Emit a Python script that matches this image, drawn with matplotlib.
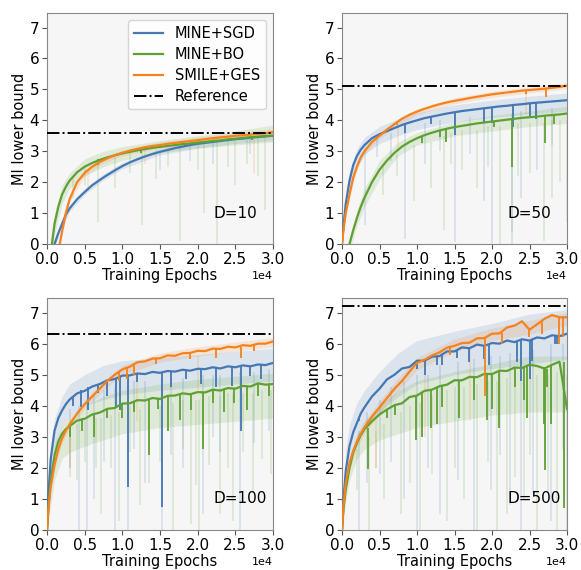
import numpy as np
import matplotlib
matplotlib.use('Agg')
import matplotlib.pyplot as plt

# ---------------- data (x in units of 1e4 training epochs) ----------------
EPOCHS = [0, 0.02, 0.05, 0.1, 0.15, 0.2, 0.25, 0.3, 0.4, 0.5, 0.6, 0.7, 0.8, 0.9,
          1.0, 1.1, 1.2, 1.3, 1.4, 1.5, 1.6, 1.7, 1.8, 1.9, 2.0, 2.1, 2.2, 2.3,
          2.4, 2.5, 2.6, 2.7, 2.8, 2.9, 3.0]
BAND_EPOCHS = [0, 0.05, 0.1, 0.2, 0.3, 0.5, 0.75, 1.0, 1.5, 2.0, 2.5, 3.0]

DIMS = ["D=10", "D=50", "D=100", "D=500"]
REFERENCE = [3.6, 5.1, 6.3, 7.2]
METHODS = ["MINE+SGD", "MINE+BO", "SMILE+GES"]

# D=10
D10_SGD = [-1.2, -0.9, -0.5, 0.0, 0.35, 0.65, 0.95, 1.15, 1.45, 1.68, 1.9, 2.07, 2.23, 2.38,
           2.52, 2.64, 2.74, 2.83, 2.91, 2.98, 3.04, 3.1, 3.15, 3.2, 3.24, 3.27, 3.3, 3.33,
           3.36, 3.39, 3.41, 3.44, 3.46, 3.48, 3.5]
D10_BO = [-1.5, -1.0, -0.3, 0.65, 1.2, 1.6, 1.85, 2.05, 2.32, 2.5, 2.62, 2.72, 2.8, 2.87,
          2.93, 2.98, 3.03, 3.07, 3.11, 3.14, 3.17, 3.2, 3.23, 3.25, 3.28, 3.3, 3.33, 3.35,
          3.38, 3.4, 3.43, 3.45, 3.47, 3.49, 3.5]
D10_GES = [-2.5, -2.2, -1.7, -0.9, -0.25, 0.4, 1.0, 1.45, 2.0, 2.3, 2.5, 2.65, 2.77, 2.87,
           2.95, 3.02, 3.08, 3.13, 3.17, 3.2, 3.24, 3.27, 3.3, 3.33, 3.36, 3.39, 3.42, 3.45,
           3.47, 3.5, 3.52, 3.54, 3.56, 3.58, 3.62]

# D=50
D50_SGD = [0.0, 0.6, 1.3, 2.05, 2.55, 2.85, 3.05, 3.2, 3.42, 3.55, 3.65, 3.75, 3.85, 3.93,
           4.0, 4.07, 4.12, 4.17, 4.22, 4.26, 4.3, 4.33, 4.36, 4.39, 4.42, 4.45, 4.47, 4.5,
           4.52, 4.55, 4.57, 4.59, 4.61, 4.63, 4.65]
D50_BO = [-1.0, -0.75, -0.4, 0.0, 0.45, 0.85, 1.2, 1.5, 2.0, 2.4, 2.7, 2.95, 3.15, 3.3,
          3.42, 3.52, 3.6, 3.67, 3.73, 3.78, 3.82, 3.86, 3.9, 3.93, 3.96, 3.99, 4.02, 4.05,
          4.08, 4.1, 4.12, 4.15, 4.17, 4.19, 4.22]
D50_GES = [0.0, 0.45, 1.0, 1.6, 2.15, 2.5, 2.8, 3.0, 3.3, 3.5, 3.7, 3.88, 4.05, 4.18,
           4.28, 4.37, 4.45, 4.52, 4.58, 4.63, 4.67, 4.72, 4.76, 4.8, 4.84, 4.87, 4.9, 4.93,
           4.96, 4.98, 5.0, 5.02, 5.05, 5.08, 5.12]

# D=100
D100_SGD = [0.0, 1.2, 2.3, 3.2, 3.6, 3.85, 4.05, 4.2, 4.4, 4.48, 4.62, 4.7, 4.82, 4.86,
            4.97, 4.98, 5.04, 5.02, 5.09, 5.06, 5.12, 5.1, 5.16, 5.13, 5.19, 5.18, 5.24, 5.2,
            5.27, 5.24, 5.3, 5.27, 5.33, 5.31, 5.38]
D100_BO = [0.0, 0.8, 1.6, 2.4, 2.85, 3.1, 3.25, 3.35, 3.52, 3.58, 3.72, 3.78, 3.9, 3.93,
           4.07, 4.08, 4.18, 4.17, 4.25, 4.22, 4.32, 4.33, 4.4, 4.37, 4.44, 4.43, 4.52, 4.49,
           4.57, 4.55, 4.64, 4.62, 4.72, 4.68, 4.7]
D100_GES = [0.0, 0.7, 1.4, 2.1, 2.6, 2.95, 3.2, 3.4, 3.75, 4.05, 4.3, 4.55, 4.8, 5.0,
            5.17, 5.26, 5.4, 5.43, 5.52, 5.53, 5.62, 5.61, 5.69, 5.7, 5.77, 5.76, 5.84, 5.83,
            5.9, 5.88, 5.95, 5.93, 6.0, 6.0, 6.07]

# D=500
D500_SGD = [0.0, 1.0, 1.9, 2.7, 3.15, 3.45, 3.75, 3.95, 4.3, 4.55, 4.85, 5.0, 5.2, 5.25,
            5.45, 5.45, 5.58, 5.6, 5.75, 5.75, 5.88, 5.85, 5.97, 5.93, 6.02, 6.0, 6.1, 6.05,
            6.14, 6.1, 6.2, 6.17, 6.27, 6.24, 6.32]
D500_BO = [0.0, 0.7, 1.3, 2.0, 2.5, 2.8, 3.05, 3.25, 3.5, 3.72, 3.88, 4.02, 4.08, 4.28,
           4.33, 4.48, 4.52, 4.63, 4.68, 4.82, 4.82, 4.93, 4.92, 5.03, 5.02, 5.13, 5.12, 5.23,
           5.22, 5.32, 5.28, 5.2, 5.32, 5.42, 3.9]
D500_GES = [0.0, 0.8, 1.5, 2.15, 2.55, 2.85, 3.1, 3.3, 3.65, 3.95, 4.25, 4.55, 4.8, 5.1,
            5.38, 5.48, 5.62, 5.72, 5.87, 5.93, 6.02, 6.03, 6.17, 6.18, 6.32, 6.33, 6.52, 6.58,
            6.72, 6.45, 6.62, 6.8, 6.92, 6.85, 6.85]

# downward glitches of the plotted (bold) curves: x, bottom, top
D10_SGD_DIP = ([], [], [])
D10_BO_DIP = ([0.68, 1.25, 2.72], [2.55, 2.95, 3.35], [2.74, 3.05, 3.45])
D10_GES_DIP = ([], [], [])
D50_SGD_DIP = ([0.84, 1.18, 1.51, 1.89, 2.0, 2.28, 2.51, 2.58],
               [3.6, 3.88, 3.52, 3.95, 3.9, 3.77, 4.1, 4.05],
               [3.9, 4.12, 4.26, 4.39, 4.42, 4.5, 4.55, 4.57])
D50_BO_DIP = ([1.06, 1.31, 1.39, 2.02, 2.26, 2.7, 2.82],
              [3.28, 3.45, 3.3, 3.77, 2.5, 3.28, 3.88],
              [3.5, 3.67, 3.72, 3.96, 4.05, 4.15, 4.17])
D50_GES_DIP = ([0.73, 2.45, 2.72], [3.85, 4.85, 4.75], [3.94, 4.97, 5.02])
D100_SGD_DIP = ([0.45, 0.55, 0.8, 0.91, 0.97, 1.08, 1.53, 1.64, 2.04, 2.24, 2.45, 2.58, 2.84,
                 0.35, 0.68, 1.2, 1.85, 2.7],
                [3.95, 3.85, 4.3, 3.95, 3.85, 1.4, 0.75, 4.6, 4.7, 4.6, 4.65, 3.2, 4.85,
                 4.0, 4.4, 4.75, 4.85, 4.95],
                [4.5, 4.6, 4.8, 4.86, 4.95, 5.0, 5.06, 5.1, 5.19, 5.24, 5.27, 5.3, 5.33,
                 4.3, 4.7, 5.04, 5.15, 5.28])
D100_BO_DIP = ([0.46, 0.62, 0.99, 1.36, 1.6, 1.77, 1.91, 2.07, 2.35, 2.48, 2.66, 2.95,
                0.3, 0.8, 1.15, 1.48, 2.2, 2.8],
               [3.2, 3.0, 3.6, 2.4, 3.2, 3.55, 3.85, 2.6, 3.8, 4.1, 3.85, 4.3,
                3.0, 3.6, 3.8, 3.9, 4.1, 4.3],
               [3.6, 3.7, 4.05, 4.23, 4.32, 4.35, 4.38, 4.44, 4.53, 4.55, 4.63, 4.7,
                3.35, 3.9, 4.15, 4.23, 4.5, 4.7])
D100_GES_DIP = ([0.95, 1.06, 1.15, 2.24, 2.57, 1.45, 1.9, 2.75],
                [4.8, 4.85, 5.0, 5.55, 5.55, 5.35, 5.5, 5.75],
                [5.1, 5.25, 5.38, 5.85, 5.9, 5.53, 5.7, 5.95])
D500_SGD_DIP = ([0.22, 0.71, 1.0, 1.11, 1.27, 1.33, 1.53, 1.69, 1.89, 1.96, 2.33, 2.38,
                 2.51, 2.53, 2.84, 2.87],
                [3.5, 5.0, 5.2, 5.0, 5.3, 5.3, 5.55, 5.4, 5.5, 5.3, 5.4, 4.8,
                 4.85, 5.45, 6.0, 6.0],
                [3.6, 5.02, 5.45, 5.48, 5.6, 5.62, 5.8, 5.9, 5.97, 6.0, 6.1, 6.12,
                 6.12, 6.12, 6.25, 6.26])
D500_BO_DIP = ([0.34, 0.6, 0.71, 0.98, 1.07, 1.18, 1.27, 1.33, 1.56, 1.76, 1.93, 2.0, 2.09,
                2.31, 2.42, 2.47, 2.69, 2.71, 2.73, 2.78, 2.96],
               [1.95, 3.6, 3.7, 2.9, 3.0, 3.3, 3.4, 3.95, 3.6, 4.2, 3.55, 3.9, 3.3,
                4.6, 4.2, 3.6, 3.4, 1.94, 4.6, 3.4, 0.7],
               [3.3, 3.88, 4.02, 4.33, 4.45, 4.52, 4.62, 4.63, 4.82, 4.92, 5.03, 5.02, 5.12,
                5.23, 5.22, 5.3, 5.25, 5.2, 5.2, 5.3, 5.4])
D500_GES_DIP = ([0.8, 1.02, 1.44, 1.91, 2.13, 2.49, 2.67, 2.89, 2.95],
                [4.75, 5.4, 5.65, 4.3, 6.0, 6.2, 6.3, 6.0, 6.2],
                [4.8, 5.42, 5.9, 6.2, 6.35, 6.45, 6.75, 6.86, 6.85])

# faint raw-run envelopes on BAND_EPOCHS: (low, high)
D10_SGD_BAND = ([-1.3, -0.6, -0.1, 0.55, 1.05, 1.6, 2.07, 2.43, 2.88, 3.1, 3.25, 3.35],
                [-1.1, -0.4, 0.1, 0.75, 1.25, 1.8, 2.27, 2.63, 3.08, 3.35, 3.5, 3.62])
D10_BO_BAND = ([-1.5, -0.6, 0.3, 1.3, 1.8, 2.2, 2.5, 2.7, 2.95, 3.1, 3.2, 3.3],
               [-1.0, 0.2, 1.0, 1.9, 2.3, 2.75, 3.0, 3.15, 3.35, 3.5, 3.65, 3.85])
D10_GES_BAND = ([-2.6, -1.8, -1.0, 0.3, 1.35, 2.2, 2.62, 2.86, 3.1, 3.26, 3.4, 3.5],
                [-2.4, -1.6, -0.8, 0.5, 1.55, 2.4, 2.8, 3.04, 3.3, 3.46, 3.6, 3.72])
D50_SGD_BAND = ([0.0, 1.0, 1.7, 2.5, 2.9, 3.25, 3.5, 3.7, 3.95, 4.1, 4.2, 4.3],
                [0.2, 1.6, 2.35, 3.1, 3.45, 3.8, 4.05, 4.25, 4.5, 4.65, 4.78, 4.88])
D50_BO_BAND = ([-1.2, -0.6, -0.2, 0.6, 1.2, 2.1, 2.85, 3.2, 3.5, 3.65, 3.8, 3.9],
               [-0.8, -0.2, 0.2, 1.1, 1.8, 2.7, 3.3, 3.6, 3.95, 4.15, 4.3, 4.45])
D50_GES_BAND = ([0.0, 0.9, 1.5, 2.4, 2.9, 3.4, 3.85, 4.18, 4.53, 4.74, 4.88, 5.02],
                [0.1, 1.1, 1.7, 2.6, 3.1, 3.6, 4.05, 4.38, 4.73, 4.94, 5.08, 5.22])
D100_SGD_BAND = ([0.0, 1.5, 2.6, 3.4, 3.7, 4.0, 4.2, 4.35, 4.5, 4.6, 4.7, 4.8],
                 [0.2, 2.7, 3.6, 4.3, 4.7, 5.0, 5.3, 5.45, 5.55, 5.65, 5.75, 5.85])
D100_BO_BAND = ([0.0, 0.8, 1.6, 2.3, 2.5, 2.7, 2.9, 3.1, 3.3, 3.4, 3.5, 3.6],
                [0.1, 2.0, 2.8, 3.4, 3.7, 4.0, 4.3, 4.5, 4.7, 4.85, 4.95, 5.05])
D100_GES_BAND = ([0.0, 1.25, 1.95, 2.8, 3.25, 3.9, 4.5, 5.0, 5.4, 5.6, 5.75, 5.9],
                 [0.1, 1.55, 2.25, 3.1, 3.55, 4.2, 4.8, 5.3, 5.7, 5.9, 6.05, 6.2])
D500_SGD_BAND = ([0.0, 1.3, 2.0, 2.9, 3.3, 3.8, 4.3, 4.7, 5.0, 5.2, 5.35, 5.5],
                 [0.3, 2.6, 3.4, 4.1, 4.5, 5.1, 5.7, 6.1, 6.4, 6.65, 6.95, 7.1])
D500_BO_BAND = ([0.0, 0.9, 1.6, 2.3, 2.6, 2.9, 3.1, 3.3, 3.5, 3.7, 3.8, 3.8],
                [0.1, 1.6, 2.3, 3.1, 3.5, 4.0, 4.5, 4.8, 5.1, 5.35, 5.6, 5.6])
D500_GES_BAND = ([0.0, 1.3, 1.95, 2.65, 3.1, 3.75, 4.5, 5.15, 5.75, 6.1, 6.3, 6.6],
                 [0.1, 1.7, 2.35, 3.05, 3.5, 4.15, 4.9, 5.55, 6.15, 6.5, 6.75, 7.0])

# faint downward spikes of the raw runs: x, bottom, top
D10_SGD_SPK = ([1.5, 2.2, 2.7, 1.9], [2.4, 2.6, 2.9, 2.7], [2.95, 3.3, 3.4, 3.2])
D10_BO_SPK = ([0.35, 0.68, 0.9, 1.26, 1.45, 1.76, 2.08, 2.25, 2.5, 2.9, 1.1, 1.6, 0.5, 2.0, 2.4,
               2.65, 2.8],
              [1.5, 0.7, 1.8, 0.6, 2.1, 0.1, 1.0, 0.0, 1.9, 1.1, 2.3, 2.5, 1.9, 2.4, 2.5,
               2.6, 2.2],
              [2.2, 2.7, 2.8, 3.0, 3.05, 3.2, 3.25, 3.3, 3.4, 3.45, 2.95, 3.1, 2.5, 3.3, 3.35,
               3.4, 3.45])
D10_GES_SPK = ([0.55, 2.75, 1.3], [1.7, 2.3, 2.6], [2.4, 3.5, 3.1])
D50_SGD_SPK = ([0.3, 0.47, 0.84, 1.51, 1.89, 2.0, 2.27, 2.38, 1.1, 2.6, 0.65, 1.3, 1.7, 2.8],
               [0.6, 2.8, 0.16, 0.05, 1.4, 0.0, 0.0, 1.5, 2.6, 2.4, 2.7, 3.0, 2.9, 3.2],
               [3.1, 3.4, 3.6, 4.0, 4.0, 4.1, 4.2, 4.3, 3.9, 4.3, 3.6, 4.0, 4.1, 4.4])
D50_BO_SPK = ([0.73, 0.96, 1.18, 1.36, 1.8, 2.11, 2.27, 2.51, 2.69, 3.0, 1.6, 2.9, 0.55, 1.45,
               1.95, 2.35, 2.8],
              [2.2, 1.4, 1.8, 0.45, 1.8, 0.0, 0.4, 2.3, 0.1, 0.7, 2.4, 2.0, 1.6, 2.6,
               2.5, 2.2, 1.5],
              [2.9, 3.2, 3.3, 3.5, 3.7, 3.8, 3.8, 3.9, 3.9, 4.0, 3.7, 4.0, 2.5, 3.6,
               3.8, 3.9, 4.0])
D50_GES_SPK = ([0.75, 2.45], [3.0, 4.2], [3.85, 4.9])
D100_SGD_SPK = ([0.43, 0.53, 0.62, 0.9, 1.07, 1.3, 1.52, 2.07, 2.56, 1.8, 2.3, 0.3, 0.75, 1.15,
                 1.65, 2.2, 2.75, 2.95],
                [0.0, 0.0, 1.0, 0.0, 0.0, 1.5, 0.0, 0.5, 0.0, 2.0, 2.5, 2.0, 2.2, 2.6,
                 2.4, 3.0, 2.8, 3.2],
                [4.0, 4.2, 4.4, 4.6, 4.7, 4.8, 4.9, 5.0, 5.1, 4.9, 5.0, 3.9, 4.5, 4.8,
                 4.9, 5.0, 5.1, 5.2])
D100_BO_SPK = ([0.31, 0.5, 0.72, 0.96, 1.23, 1.36, 1.67, 1.91, 1.98, 2.02, 2.29, 2.47, 2.73, 2.98,
                0.85, 1.5, 2.15, 2.6, 2.85, 0.4, 0.65, 1.1, 1.8, 2.4],
               [1.7, 2.2, 0.5, 0.3, 0.8, 1.5, 0.0, 0.2, 1.45, 0.0, 0.5, 0.3, 1.2, 1.8,
                2.0, 2.2, 2.1, 2.5, 2.3, 1.6, 2.0, 2.5, 2.6, 2.0],
               [3.3, 3.5, 3.6, 3.8, 3.9, 4.0, 4.1, 4.2, 4.2, 4.2, 4.3, 4.4, 4.4, 4.5,
                3.7, 4.0, 4.3, 4.4, 4.5, 3.4, 3.6, 4.0, 4.2, 4.4])
D100_GES_SPK = ([0.3, 1.2, 2.0], [2.0, 3.5, 4.5], [3.3, 5.0, 5.6])
D500_SGD_SPK = ([0.22, 0.33, 0.82, 1.0, 1.31, 1.76, 1.98, 2.24, 2.38, 2.78, 0.5, 0.65, 1.15,
                 1.55, 2.1, 2.55, 2.95],
                [0.0, 1.5, 1.0, 0.0, 0.5, 0.0, 1.3, 0.8, 0.0, 0.3, 1.8, 2.2, 2.0,
                 1.6, 2.4, 1.2, 2.6],
                [3.2, 3.8, 4.8, 5.0, 5.3, 5.5, 5.6, 5.7, 5.8, 6.0, 4.2, 4.6, 5.0,
                 5.4, 5.6, 5.8, 6.0])
D500_BO_SPK = ([0.2, 0.36, 0.56, 0.78, 1.04, 1.4, 1.62, 1.8, 2.07, 2.2, 2.42, 2.6, 2.87, 3.0,
                0.45, 1.2, 1.95, 2.5, 0.9, 1.5, 2.3, 2.75],
               [1.3, 0.0, 1.0, 0.5, 0.0, 0.3, 1.0, 0.0, 0.0, 0.5, 1.0, 0.0, 0.0, 0.0,
                2.0, 1.8, 2.2, 2.4, 1.5, 2.0, 1.7, 1.2],
               [2.6, 3.0, 3.4, 3.8, 4.1, 4.5, 4.6, 4.7, 4.8, 4.9, 5.0, 5.0, 5.1, 5.0,
                3.2, 4.3, 4.8, 5.0, 4.0, 4.6, 4.9, 5.0])
D500_GES_SPK = ([0.45, 1.1, 1.7], [2.0, 3.0, 3.5], [3.6, 5.0, 5.8])

CURVES = [[D10_SGD, D10_BO, D10_GES], [D50_SGD, D50_BO, D50_GES],
          [D100_SGD, D100_BO, D100_GES], [D500_SGD, D500_BO, D500_GES]]
DIPS = [[D10_SGD_DIP, D10_BO_DIP, D10_GES_DIP], [D50_SGD_DIP, D50_BO_DIP, D50_GES_DIP],
        [D100_SGD_DIP, D100_BO_DIP, D100_GES_DIP], [D500_SGD_DIP, D500_BO_DIP, D500_GES_DIP]]
BANDS = [[D10_SGD_BAND, D10_BO_BAND, D10_GES_BAND], [D50_SGD_BAND, D50_BO_BAND, D50_GES_BAND],
         [D100_SGD_BAND, D100_BO_BAND, D100_GES_BAND], [D500_SGD_BAND, D500_BO_BAND, D500_GES_BAND]]
SPIKES = [[D10_SGD_SPK, D10_BO_SPK, D10_GES_SPK], [D50_SGD_SPK, D50_BO_SPK, D50_GES_SPK],
          [D100_SGD_SPK, D100_BO_SPK, D100_GES_SPK], [D500_SGD_SPK, D500_BO_SPK, D500_GES_SPK]]

# ---------------- style ----------------
COLORS = ["#4477b3", "#5fa033", "#f4821f"]
BG = "#f6f6f6"
SCALE = 1e4

fig = plt.figure(figsize=(5.81, 5.70), dpi=100)
W, H = 581.0, 570.0
boxes = [(47, 13, 273, 244), (342, 13, 567, 244), (47, 298, 273, 530), (342, 298, 567, 530)]

x = np.array(EPOCHS) * SCALE
bx = np.array(BAND_EPOCHS) * SCALE

for k, (l, t, r, b) in enumerate(boxes):
    ax = fig.add_axes([l / W, 1 - b / H, (r - l) / W, (b - t) / H])
    ax.set_facecolor(BG)
    for s in ax.spines.values():
        s.set_color("#888888")
        s.set_linewidth(0.8)
    # faint raw runs
    for j in range(3):
        lo, hi = BANDS[k][j]
        ax.fill_between(bx, lo, hi, color=COLORS[j], alpha=0.15, lw=0)
        sx, sb, st = SPIKES[k][j]
        if len(sx):
            ax.vlines(np.array(sx) * SCALE, sb, st, color=COLORS[j], alpha=0.2, lw=1.1)
    # main curves
    for j in range(3):
        ax.plot(x, CURVES[k][j], color=COLORS[j], lw=1.6, label=METHODS[j], zorder=3)
        dx, db, dt = DIPS[k][j]
        if len(dx):
            ax.vlines(np.array(dx) * SCALE, db, dt, color=COLORS[j], lw=1.3, zorder=3)
    ax.axhline(REFERENCE[k], color="black", ls="-.", lw=1.4, label="Reference", zorder=4)
    ax.set_xlim(0, 3.0 * SCALE)
    ax.set_ylim(0, 7.47)
    ax.set_xticks(np.arange(0, 3.01, 0.5) * SCALE)
    ax.set_yticks(range(0, 8))
    ax.ticklabel_format(style="sci", axis="x", scilimits=(0, 0))
    ax.xaxis.get_offset_text().set_fontsize(8)
    ax.tick_params(labelsize=11, length=3.5, width=0.8, color="#555555", pad=2)
    ax.set_xlabel("Training Epochs", fontsize=10.5, labelpad=1)
    ax.set_ylabel("MI lower bound", fontsize=10.5, labelpad=2)
    ax.text(0.735, 0.134, DIMS[k], transform=ax.transAxes, fontsize=11,
            ha="left", va="center")
    if k == 0:
        ax.legend(loc="upper right", fontsize=10.5, frameon=True, fancybox=True,
                  framealpha=0.8, edgecolor="#cccccc", handlelength=2.0, borderpad=0.4,
                  labelspacing=0.4)

fig.savefig("out.png", dpi=100)
